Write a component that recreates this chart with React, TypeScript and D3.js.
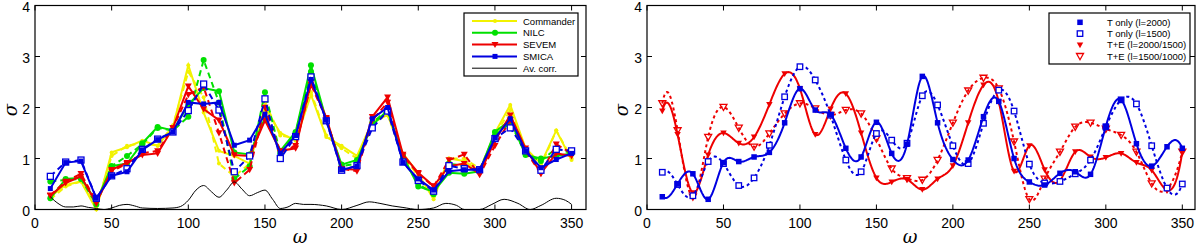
import React from "react";
import * as d3 from "d3";

// ---------- data ----------
const omega = [10, 20, 30, 40, 50, 60, 70, 80, 90, 100, 110, 120, 130, 140, 150, 160, 170, 180, 190, 200, 210, 220, 230, 240, 250, 260, 270, 280, 290, 300, 310, 320, 330, 340, 350];

// left panel: solid / dashed variants of each method
const commanderA = [0.25, 0.48, 0.55, 0.0, 1.12, 1.22, 1.35, 1.25, 1.62, 2.83, 1.9, 1.15, 1.05, 0.9, 2.0, 1.5, 1.35, 2.25, 1.42, 1.25, 1.05, 1.72, 1.85, 1.1, 0.7, 0.2, 1.0, 0.95, 0.75, 1.5, 2.05, 1.2, 0.9, 1.55, 0.97];
const commanderB = [0.2, 0.45, 0.55, 0.05, 1.05, 1.25, 1.3, 1.25, 1.65, 2.7, 2.2, 0.9, 0.65, 0.9, 2.1, 1.45, 1.4, 2.3, 1.45, 1.2, 1.0, 1.7, 1.85, 1.05, 0.65, 0.25, 1.0, 1.0, 0.8, 1.45, 1.95, 1.15, 0.85, 1.55, 1.0];
const nilcA = [0.22, 0.6, 0.62, 0.15, 0.85, 0.9, 1.3, 1.62, 1.55, 2.05, 2.38, 2.32, 1.12, 1.08, 1.8, 1.15, 1.52, 2.83, 1.75, 0.88, 0.97, 1.65, 1.95, 1.05, 0.45, 0.35, 0.72, 0.7, 0.75, 1.52, 1.75, 1.07, 1.0, 1.05, 1.1];
const nilcB = [0.55, 0.58, 0.6, 0.1, 0.85, 1.05, 1.28, 1.6, 1.55, 1.82, 2.93, 2.1, 0.6, 0.85, 2.3, 1.1, 1.5, 2.7, 1.75, 0.85, 0.9, 1.7, 1.95, 1.0, 0.5, 0.3, 0.9, 0.85, 0.75, 1.45, 1.7, 1.1, 0.95, 1.2, 1.1];
const sevemA = [0.27, 0.52, 0.65, 0.12, 0.78, 0.92, 1.07, 1.1, 1.6, 2.42, 1.97, 1.75, 1.07, 1.05, 1.75, 1.15, 1.2, 2.5, 1.8, 0.8, 0.78, 1.82, 2.2, 1.08, 0.72, 0.46, 0.85, 0.9, 0.7, 1.35, 1.85, 1.2, 0.71, 1.1, 1.05];
const sevemB = [0.28, 0.55, 0.7, 0.15, 0.75, 0.9, 1.1, 1.15, 1.6, 2.25, 2.4, 1.5, 0.52, 0.78, 2.0, 1.12, 1.25, 2.45, 1.78, 0.8, 0.75, 1.75, 2.1, 1.05, 0.7, 0.45, 0.97, 1.08, 0.68, 1.25, 1.75, 1.15, 0.7, 1.28, 1.1];
const smicaA = [0.41, 0.92, 0.95, 0.22, 0.66, 0.74, 1.17, 1.37, 1.52, 2.1, 2.07, 2.1, 1.26, 1.36, 1.87, 1.1, 1.45, 2.55, 1.75, 0.78, 0.85, 1.78, 2.0, 0.92, 0.6, 0.38, 0.75, 0.78, 0.78, 1.4, 1.78, 1.15, 0.82, 0.98, 1.1];
const smicaB = [0.65, 0.93, 0.97, 0.22, 0.66, 0.8, 1.18, 1.38, 1.52, 1.94, 2.46, 1.95, 0.74, 1.05, 2.17, 1.0, 1.43, 2.6, 1.74, 0.77, 0.86, 1.6, 1.93, 0.93, 0.57, 0.36, 0.86, 0.8, 0.78, 1.39, 1.6, 1.15, 0.77, 1.18, 1.15];

const avCorrX = [10, 15, 20, 25, 30, 35, 40, 45, 50, 55, 60, 65, 70, 80, 90, 95, 100, 105, 110, 115, 120, 125, 130, 135, 140, 145, 150, 155, 160, 165, 170, 175, 180, 190, 200, 210, 218, 225, 233, 240, 250, 260, 268, 275, 280, 290, 298, 306, 315, 323, 330, 340, 346, 350];
const avCorrY = [0.25, 0.12, 0.05, 0.05, 0.07, 0.04, 0.02, 0.0, 0.03, 0.08, 0.1, 0.07, 0.03, 0.02, 0.03, 0.06, 0.18, 0.38, 0.47, 0.35, 0.24, 0.38, 0.54, 0.4, 0.27, 0.33, 0.38, 0.2, 0.02, 0.05, 0.12, 0.1, 0.1, 0.07, 0.0, 0.08, 0.15, 0.12, 0.07, 0.04, 0.0, 0.03, 0.12, 0.08, 0.0, 0.0, 0.1, 0.2, 0.12, 0.0, 0.08, 0.22, 0.18, 0.1];

// right panel
const tOnly2000 = [0.25, 0.5, 0.7, 0.2, 0.92, 0.94, 1.03, 1.12, 1.7, 2.37, 1.95, 1.86, 1.2, 1.03, 1.71, 1.1, 1.28, 2.61, 1.7, 0.98, 0.97, 1.82, 2.12, 1.0, 0.54, 0.48, 0.71, 0.74, 0.69, 1.63, 2.15, 1.29, 0.85, 1.23, 1.2];
const tOnly1500 = [0.73, 0.49, 0.27, 0.94, 0.9, 0.47, 0.62, 1.26, 2.21, 2.8, 2.54, 1.85, 0.97, 0.74, 1.49, 1.36, 1.3, 2.23, 2.05, 1.25, 0.9, 1.69, 2.34, 1.93, 0.89, 0.52, 0.55, 0.7, 0.97, 1.62, 2.15, 2.07, 1.25, 0.42, 0.5];
const te2000 = [1.93, 1.47, 0.33, 1.07, 1.5, 1.3, 1.42, 2.06, 2.66, 2.37, 1.47, 1.97, 2.27, 1.5, 0.62, 0.54, 0.59, 0.39, 0.6, 0.86, 1.7, 2.44, 2.11, 0.75, 1.25, 0.78, 0.57, 1.13, 1.03, 1.02, 1.1, 0.92, 0.77, 0.38, 1.13];
const te1500 = [2.08, 1.55, 0.25, 1.42, 2.01, 1.6, 1.23, 1.49, 1.88, 2.08, 1.98, 1.85, 1.95, 1.88, 1.39, 0.8, 0.61, 0.58, 0.97, 1.7, 2.33, 2.58, 2.37, 1.33, 0.2, 0.6, 1.13, 1.62, 1.7, 1.58, 1.46, 1.13, 0.51, 0.4, 1.13];

const yTicks = [0, 1, 2, 3, 4];
const xTicks = [0, 50, 100, 150, 200, 250, 300, 350];
const leftLegend = ["Commander", "NILC", "SEVEM", "SMICA", "Av. corr."];
const rightLegend = ["T only (l=2000)", "T only (l=1500)", "T+E (l=2000/1500)", "T+E (l=1500/1000)"];

// ---------- helpers ----------
const YEL = "#f2f200";
const GRN = "#00e000";
const RED = "#ee0000";
const BLU = "#0000e0";
const FONT = "'Liberation Sans', Arial, Helvetica, sans-serif";

// not-a-knot cubic spline (like MATLAB's spline) for drawing smooth curves
function splineFn(xs: number[], ys: number[]) {
  const n = xs.length;
  const h = xs[1] - xs[0];
  const A: number[][] = [];
  const b: number[] = [];
  for (let i = 0; i < n; i++) { A.push(new Array(n).fill(0)); b.push(0); }
  A[0][0] = 1; A[0][1] = -2; A[0][2] = 1;
  for (let i = 1; i < n - 1; i++) {
    A[i][i - 1] = 1; A[i][i] = 4; A[i][i + 1] = 1;
    b[i] = (6 / (h * h)) * (ys[i - 1] - 2 * ys[i] + ys[i + 1]);
  }
  A[n - 1][n - 3] = 1; A[n - 1][n - 2] = -2; A[n - 1][n - 1] = 1;
  for (let c = 0; c < n; c++) {
    let p = c;
    for (let r = c + 1; r < n; r++) if (Math.abs(A[r][c]) > Math.abs(A[p][c])) p = r;
    [A[c], A[p]] = [A[p], A[c]]; [b[c], b[p]] = [b[p], b[c]];
    for (let r = c + 1; r < n; r++) {
      const f = A[r][c] / A[c][c];
      if (f === 0) continue;
      for (let k = c; k < n; k++) A[r][k] -= f * A[c][k];
      b[r] -= f * b[c];
    }
  }
  const M = new Array(n).fill(0);
  for (let r = n - 1; r >= 0; r--) {
    let s = b[r];
    for (let k = r + 1; k < n; k++) s -= A[r][k] * M[k];
    M[r] = s / A[r][r];
  }
  return (x: number) => {
    const i = Math.min(n - 2, Math.max(0, Math.floor((x - xs[0]) / h)));
    const t = x - xs[i];
    const bb = (ys[i + 1] - ys[i]) / h - (h * (2 * M[i] + M[i + 1])) / 6;
    return ys[i] + bb * t + (M[i] / 2) * t * t + ((M[i + 1] - M[i]) / (6 * h)) * t * t * t;
  };
}

type MK = "sq" | "osq" | "tri" | "otri" | "circ" | "dot";
function Marker({ k, cx, cy, c, s }: { k: MK; cx: number; cy: number; c: string; s: number }) {
  if (k === "sq") return <rect x={cx - s / 2} y={cy - s / 2} width={s} height={s} fill={c} />;
  if (k === "osq") return <rect x={cx - s / 2} y={cy - s / 2} width={s} height={s} fill="white" stroke={c} strokeWidth={1.3} />;
  if (k === "tri") return <path d={`M${cx - s / 2},${cy - s / 2.6}L${cx + s / 2},${cy - s / 2.6}L${cx},${cy + s / 2}Z`} fill={c} />;
  if (k === "otri") return <path d={`M${cx - s / 2},${cy - s / 2.6}L${cx + s / 2},${cy - s / 2.6}L${cx},${cy + s / 2}Z`} fill="none" stroke={c} strokeWidth={1.3} />;
  return <circle cx={cx} cy={cy} r={s / 2} fill={c} />;
}

function Axes({ x, y, xmax }: { x: d3.ScaleLinear<number, number>; y: d3.ScaleLinear<number, number>; xmax: number }) {
  const [x0, x1] = x.range();
  const [y0, y1] = y.range();
  return (
    <g fontFamily={FONT} fontSize={14} fill="#000">
      <rect x={x0} y={y1} width={x1 - x0} height={y0 - y1} fill="none" stroke="#000" strokeWidth={1.2} />
      {xTicks.filter((t) => t <= xmax).map((t) => (
        <g key={"x" + t}>
          <line x1={x(t)} x2={x(t)} y1={y0} y2={y0 - 5} stroke="#000" />
          <line x1={x(t)} x2={x(t)} y1={y1} y2={y1 + 5} stroke="#000" />
          <text x={x(t)} y={228} textAnchor="middle">{t}</text>
        </g>
      ))}
      {yTicks.map((t) => (
        <g key={"y" + t}>
          <line x1={x0} x2={x0 + 5} y1={y(t)} y2={y(t)} stroke="#000" />
          <line x1={x1} x2={x1 - 5} y1={y(t)} y2={y(t)} stroke="#000" />
          <text x={x0 - 5} y={y(t) + 1.5} textAnchor="end" dominantBaseline="central">{t}</text>
        </g>
      ))}
    </g>
  );
}

export default function App() {
  const y = d3.scaleLinear().domain([0, 4]).range([209.5, 5.5]);
  const xL = d3.scaleLinear().domain([0, 359.4]).range([35, 586]);
  const xR = d3.scaleLinear().domain([0, 358.3]).range([647, 1195]);

  const lineL = d3.line<number>().x((_, i) => xL(omega[i])).y((d) => y(d));
  const avLine = d3.line<number>().x((_, i) => xL(avCorrX[i])).y((d) => y(d)).curve(d3.curveMonotoneX);

  const leftSeries = [
    { d: commanderB, c: YEL, dash: "6,4", mk: "dot" as MK, s: 4 },
    { d: commanderA, c: YEL, dash: "", mk: "dot" as MK, s: 4 },
    { d: nilcB, c: GRN, dash: "6,4", mk: "circ" as MK, s: 6 },
    { d: nilcA, c: GRN, dash: "", mk: "circ" as MK, s: 6 },
    { d: sevemB, c: RED, dash: "6,4", mk: "tri" as MK, s: 7 },
    { d: sevemA, c: RED, dash: "", mk: "tri" as MK, s: 7 },
    { d: smicaB, c: BLU, dash: "6,4", mk: "osq" as MK, s: 6 },
    { d: smicaA, c: BLU, dash: "", mk: "sq" as MK, s: 5 },
  ];

  const rightSeries = [
    { d: te1500, c: RED, dash: "3,3", mk: "otri" as MK, s: 7 },
    { d: te2000, c: RED, dash: "", mk: "tri" as MK, s: 6.5 },
    { d: tOnly1500, c: BLU, dash: "3,3", mk: "osq" as MK, s: 5.5 },
    { d: tOnly2000, c: BLU, dash: "", mk: "sq" as MK, s: 5.5 },
  ];

  const smoothPath = (vals: number[]) => {
    const f = splineFn(omega, vals);
    const xs = d3.range(omega[0], omega[omega.length - 1] + 0.001, 0.5);
    return d3.line<number>().x((v) => xR(v)).y((v) => y(Math.max(-0.05, f(v))))(xs) || "";
  };

  const legL = [
    { c: YEL, mk: "dot" as MK, s: 4 },
    { c: GRN, mk: "circ" as MK, s: 6 },
    { c: RED, mk: "tri" as MK, s: 7 },
    { c: BLU, mk: "sq" as MK, s: 5 },
    { c: "#000", mk: null, s: 0 },
  ];
  const legR = [
    { c: BLU, mk: "sq" as MK, s: 5.5 },
    { c: BLU, mk: "osq" as MK, s: 5.5 },
    { c: RED, mk: "tri" as MK, s: 6.5 },
    { c: RED, mk: "otri" as MK, s: 7 },
  ];

  return (
    <svg width={1200} height={247} style={{ position: "absolute", left: 0, top: 0, background: "#fff" }}>
      <rect width={1200} height={247} fill="#fff" />
      {/* LEFT PANEL */}
      <g>
        {leftSeries.map((s, k) => (
          <g key={k}>
            <path d={lineL(s.d) || ""} fill="none" stroke={s.c} strokeWidth={2} strokeDasharray={s.dash || undefined} />
            {s.d.map((v, i) => <Marker key={i} k={s.mk} cx={xL(omega[i])} cy={y(v)} c={s.c} s={s.s} />)}
          </g>
        ))}
        <path d={avLine(avCorrY) || ""} fill="none" stroke="#000" strokeWidth={1} />
        <Axes x={xL} y={y} xmax={359} />
        <g fontFamily={FONT} fontSize={9.5}>
          <rect x={464} y={13} width={114} height={63} fill="#fff" stroke="#000" strokeWidth={1.2} />
          {leftLegend.map((t, i) => {
            const ly = 21 + i * 11.8;
            const L = legL[i];
            return (
              <g key={t}>
                <line x1={472} x2={517} y1={ly} y2={ly} stroke={L.c} strokeWidth={i === 4 ? 1 : 2} />
                {L.mk && <Marker k={L.mk} cx={495} cy={ly} c={L.c} s={L.s} />}
                <text x={523} y={ly} dominantBaseline="central">{t}</text>
              </g>
            );
          })}
        </g>
        <text x={300} y={243} fontFamily="'DejaVu Serif', serif" fontStyle="italic" fontSize={18} textAnchor="middle">ω</text>
        <text transform="translate(17,110) rotate(-90)" fontFamily="'DejaVu Serif', serif" fontStyle="italic" fontSize={18} textAnchor="middle">σ</text>
      </g>
      {/* RIGHT PANEL */}
      <g>
        {rightSeries.map((s, k) => (
          <g key={k}>
            <path d={smoothPath(s.d)} fill="none" stroke={s.c} strokeWidth={2} strokeDasharray={s.dash || undefined} />
            {s.d.map((v, i) => <Marker key={i} k={s.mk} cx={xR(omega[i])} cy={y(v)} c={s.c} s={s.s} />)}
          </g>
        ))}
        <Axes x={xR} y={y} xmax={358} />
        <g fontFamily={FONT} fontSize={9.5}>
          <rect x={1049} y={13} width={141} height={51} fill="#fff" stroke="#000" strokeWidth={1.2} />
          {rightLegend.map((t, i) => {
            const ly = 22.3 + i * 11.3;
            const L = legR[i];
            return (
              <g key={t}>
                <Marker k={L.mk} cx={1080} cy={ly} c={L.c} s={L.s} />
                <text x={1107} y={ly} dominantBaseline="central">{t}</text>
              </g>
            );
          })}
        </g>
        <text x={910} y={243} fontFamily="'DejaVu Serif', serif" fontStyle="italic" fontSize={18} textAnchor="middle">ω</text>
        <text transform="translate(628,110) rotate(-90)" fontFamily="'DejaVu Serif', serif" fontStyle="italic" fontSize={18} textAnchor="middle">σ</text>
      </g>
    </svg>
  );
}
